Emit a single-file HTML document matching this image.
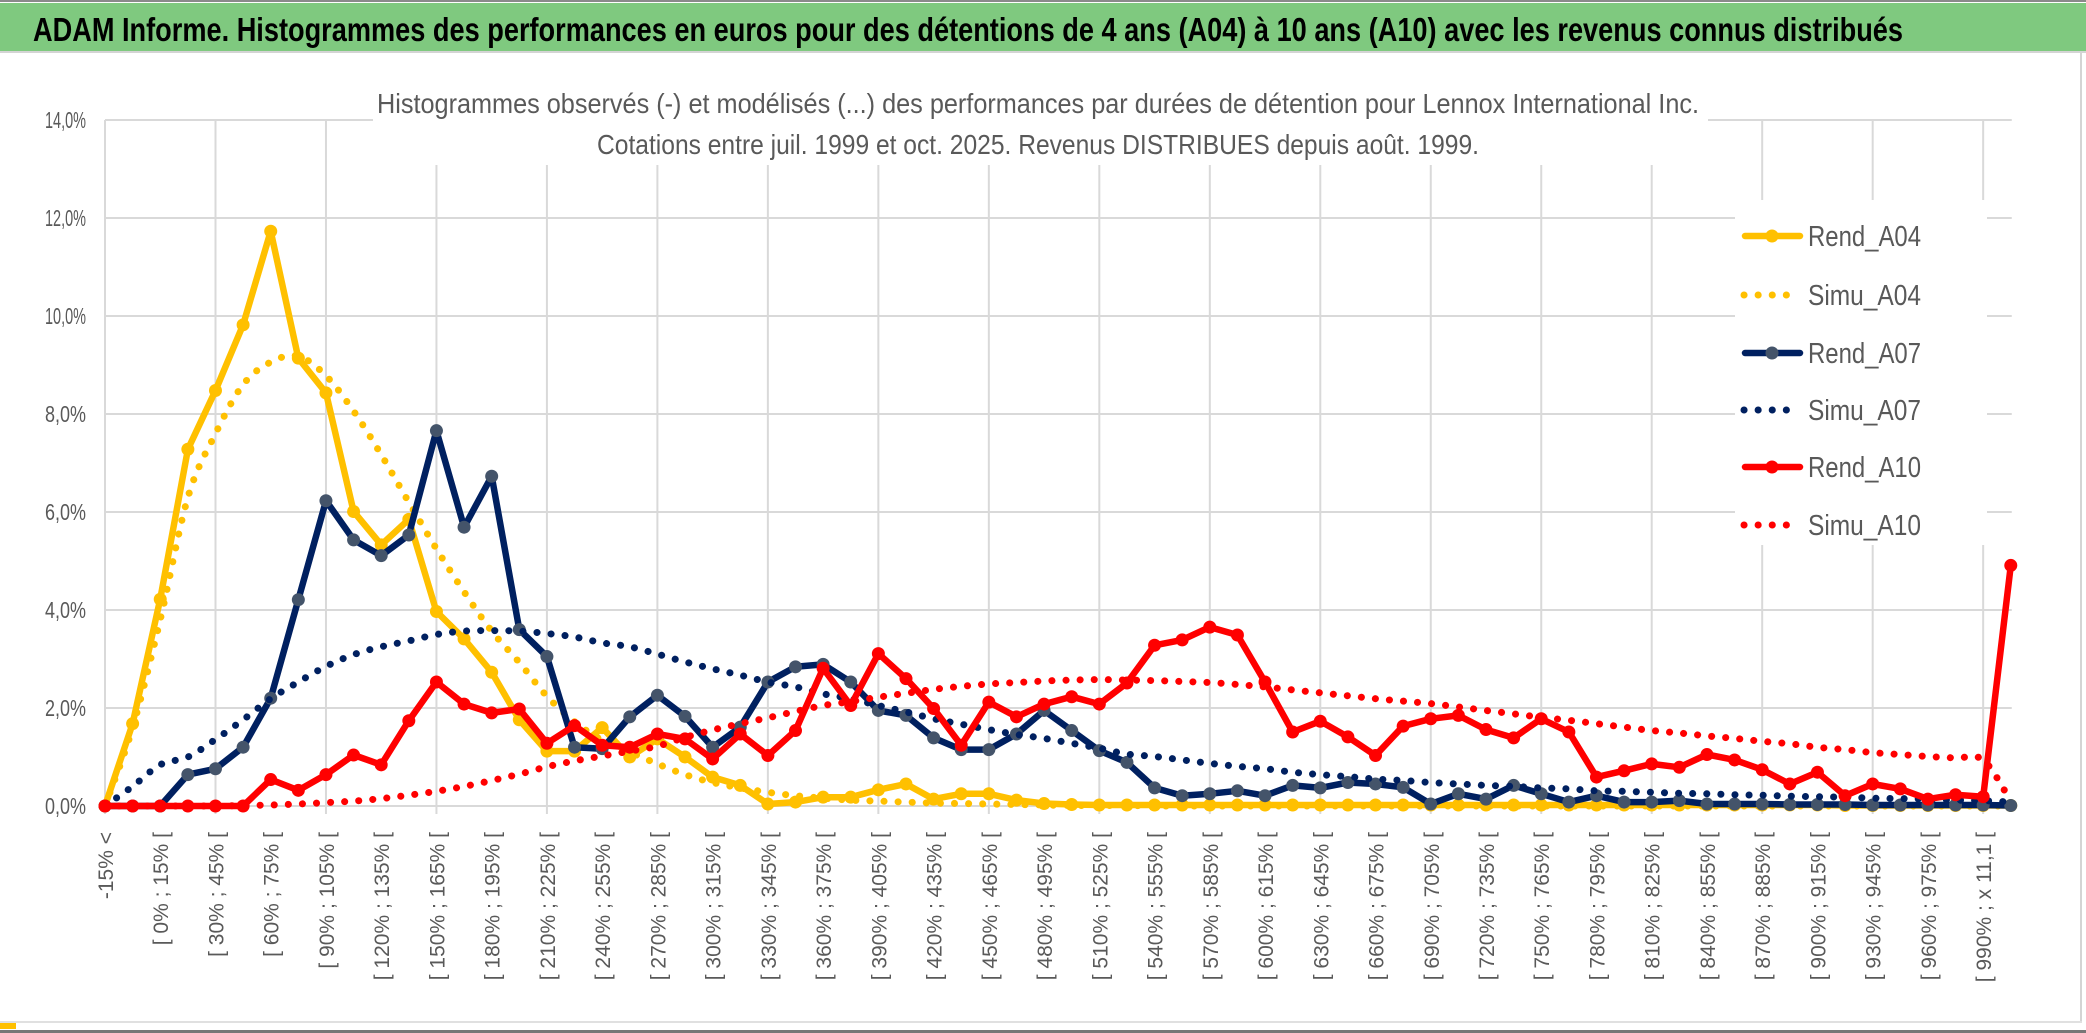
<!DOCTYPE html>
<html><head><meta charset="utf-8">
<style>
html,body{margin:0;padding:0;background:#fff;}
svg{display:block;}
text{font-family:"Liberation Sans",sans-serif;}
</style></head>
<body>
<svg id="chart" width="2086" height="1033" viewBox="0 0 2086 1033" xmlns="http://www.w3.org/2000/svg">
  <rect x="0" y="0" width="2086" height="1033" fill="#fff"/>
  <rect x="0" y="0" width="2086" height="2" fill="#8a8a8a"/>
  <rect x="0" y="3" width="2086" height="48" fill="#7fc97f"/>
  <text x="33" y="41" font-size="33" font-weight="bold" fill="#000" textLength="1870" lengthAdjust="spacingAndGlyphs">ADAM Informe. Histogrammes des performances en euros pour des détentions de 4 ans (A04) à 10 ans (A10) avec les revenus connus distribués</text>
  <rect x="0" y="51" width="2086" height="2" fill="#d4d4d4"/>
  <rect x="2080" y="53" width="2" height="970" fill="#d4d4d4"/>
  <rect x="0" y="1021" width="2082" height="2" fill="#e0e0e0"/>
  <rect x="0" y="1030" width="2086" height="3" fill="#777"/>
  <rect x="0" y="1023" width="16" height="6" fill="#ffc000"/>
  <g id="grid"></g>
  <rect x="373" y="58" width="1335" height="107" fill="#fff"/>
  <text x="1038" y="113" font-size="28" fill="#595959" text-anchor="middle" textLength="1322" lengthAdjust="spacingAndGlyphs">Histogrammes observés (-) et modélisés (...) des performances par durées de détention pour Lennox International Inc.</text>
  <text x="1038" y="154" font-size="28" fill="#595959" text-anchor="middle" textLength="882" lengthAdjust="spacingAndGlyphs">Cotations entre juil. 1999 et oct. 2025. Revenus DISTRIBUES depuis août. 1999.</text>
  <g id="yaxis"></g>
  <g id="xaxis"></g>
  <g id="series"></g>
  <g id="legend"></g>
</svg>
<script>
const categoryCount = 70;
const yTicks = [0, 2, 4, 6, 8, 10, 12, 14];
const yTickLabels = ["0,0%","2,0%","4,0%","6,0%","8,0%","10,0%","12,0%","14,0%"];
const rendA04 = [0,1.68,4.22,7.28,8.48,9.82,11.73,9.14,8.43,6.01,5.33,5.85,3.97,3.41,2.73,1.76,1.12,1.12,1.6,1.0,1.37,1.0,0.59,0.42,0.04,0.08,0.18,0.18,0.33,0.45,0.14,0.25,0.25,0.12,0.05,0.03,0.02,0.02,0.02,0.02,0.02,0.02,0.02,0.02,0.02,0.02,0.02,0.02,0.02,0.02,0.02,0.02,0.02,0.02,0.02,0.02,0.02,0.02,0.02,0.02,0.02,0.02,0.02,0.01,0.01,0.01,0.01,0.01,0.01,0.01];
const simuA04 = [0,1.6,3.8,6.3,7.6,8.6,9.06,9.18,8.78,8.06,7.17,6.2,5.25,4.37,3.57,2.93,2.24,1.72,1.34,1.1,0.86,0.64,0.48,0.37,0.28,0.21,0.16,0.12,0.1,0.08,0.06,0.05,0.04,0.03,0.02,0.01,0.01,0.01,0,0,0,0,0,0,0,0,0,0,0,0,0,0,0,0,0,0,0,0,0,0,0,0,0,0,0,0,0,0,0,0];
const rendA07 = [0,0,0,0.64,0.76,1.2,2.2,4.21,6.23,5.43,5.11,5.53,7.66,5.69,6.73,3.6,3.05,1.2,1.17,1.82,2.26,1.83,1.2,1.61,2.53,2.84,2.89,2.53,1.95,1.85,1.39,1.15,1.15,1.47,1.95,1.54,1.13,0.89,0.37,0.21,0.25,0.31,0.21,0.42,0.37,0.48,0.45,0.38,0.04,0.25,0.14,0.42,0.25,0.08,0.21,0.08,0.08,0.11,0.04,0.04,0.04,0.03,0.03,0.03,0.02,0.02,0.02,0.02,0.02,0.01];
const simuA07 = [0,0.4,0.84,1.0,1.36,1.76,2.19,2.53,2.85,3.09,3.25,3.37,3.5,3.57,3.58,3.57,3.52,3.45,3.33,3.25,3.1,2.94,2.8,2.67,2.53,2.43,2.29,2.19,2.05,1.92,1.78,1.67,1.56,1.46,1.38,1.28,1.18,1.06,1.01,0.94,0.87,0.81,0.76,0.69,0.64,0.6,0.55,0.52,0.48,0.45,0.42,0.4,0.37,0.35,0.31,0.3,0.28,0.26,0.25,0.23,0.22,0.2,0.19,0.18,0.16,0.15,0.14,0.12,0.11,0.08];
const rendA10 = [0,0,0,0,0,0,0.54,0.32,0.64,1.04,0.84,1.74,2.53,2.08,1.9,1.98,1.28,1.64,1.24,1.2,1.47,1.37,0.96,1.47,1.03,1.54,2.81,2.05,3.11,2.6,1.99,1.24,2.12,1.82,2.08,2.23,2.08,2.51,3.28,3.39,3.65,3.49,2.53,1.51,1.73,1.41,1.03,1.63,1.78,1.85,1.56,1.39,1.78,1.51,0.59,0.72,0.86,0.79,1.05,0.94,0.74,0.45,0.69,0.21,0.45,0.35,0.14,0.23,0.19,4.91];
const simuA10 = [0,0,0,0,0,0.01,0.02,0.04,0.07,0.1,0.15,0.22,0.3,0.4,0.52,0.65,0.8,0.92,1.02,1.12,1.22,1.4,1.55,1.68,1.8,1.93,2.05,2.13,2.22,2.3,2.38,2.44,2.49,2.52,2.55,2.57,2.58,2.57,2.56,2.54,2.52,2.48,2.43,2.37,2.31,2.25,2.19,2.14,2.09,2.02,1.95,1.88,1.81,1.75,1.68,1.61,1.54,1.49,1.43,1.38,1.32,1.27,1.2,1.15,1.09,1.05,1.01,0.98,0.94,0.1];

const NS = "http://www.w3.org/2000/svg";
const X0 = 105, XSTEP = 27.62, Y0 = 806, YUNIT = 49;
function xPos(k){ return X0 + k * XSTEP; }
function yPos(v){ return Y0 - v * YUNIT; }
function mk(tag, attrs, parent){
  const el = document.createElementNS(NS, tag);
  for (const a in attrs) el.setAttribute(a, attrs[a]);
  parent.appendChild(el);
  return el;
}
function catLabel(k){
  if (k === 0) return "-15% <";
  if (k === 1) return "[ -15% ; 0% [";
  if (k === 68) return "[ 990% ; x 11,1 [";
  if (k === 69) return "> x 11,1";
  return "[ " + ((k-2)*15) + "% ; " + ((k-1)*15) + "% [";
}
const grid = document.getElementById('grid');
const xRight = xPos(categoryCount - 1) + 1;
yTicks.forEach(function(t){
  const l = mk('line', {x1: X0, x2: xRight, y1: yPos(t), y2: yPos(t), stroke: '#d9d9d9', 'stroke-width': 2}, grid);
  
  
});
for (let k = 0; k < categoryCount; k += 4) {
  const l = mk('line', {x1: xPos(k), x2: xPos(k), y1: yPos(14), y2: Y0 + 8, stroke: '#d9d9d9', 'stroke-width': 2}, grid);
  
  
}
const yaxis = document.getElementById('yaxis');
yTicks.forEach(function(t, i){
  const tx = mk('text', {x: 86, y: yPos(t) + 8, 'font-size': 23, fill: '#595959', 'text-anchor': 'end', textLength: yTickLabels[i].length > 5 ? 50 : 41, lengthAdjust: 'spacingAndGlyphs'}, yaxis);
  
  
  tx.textContent = yTickLabels[i];
});
const xaxis = document.getElementById('xaxis');
for (let k = 0; k < categoryCount; k += 2) {
  const x = xPos(k);
  const tx = mk('text', {x: 0, y: 0, 'font-size': 21, fill: '#595959', 'text-anchor': 'end', 'font-family': '"DejaVu Sans", sans-serif', transform: 'translate(' + (x + 8) + ',832) rotate(-90)'}, xaxis);
  
  
  tx.textContent = catLabel(k);
}
function straightPath(vals){
  return vals.map(function(v, k){ return (k ? 'L' : 'M') + xPos(k).toFixed(1) + ' ' + yPos(v).toFixed(1); }).join(' ');
}
function smoothPath(vals){
  const p = vals.map(function(v, k){ return [xPos(k), yPos(v)]; });
  let d = 'M' + p[0][0].toFixed(1) + ' ' + p[0][1].toFixed(1);
  for (let i = 0; i < p.length - 1; i++) {
    const p0 = p[i-1] || p[i], p1 = p[i], p2 = p[i+1], p3 = p[i+2] || p[i+1];
    const c1x = p1[0] + (p2[0]-p0[0])/6, c1y = p1[1] + (p2[1]-p0[1])/6;
    const c2x = p2[0] - (p3[0]-p1[0])/6, c2y = p2[1] - (p3[1]-p1[1])/6;
    d += ' C' + c1x.toFixed(1) + ' ' + c1y.toFixed(1) + ' ' + c2x.toFixed(1) + ' ' + c2y.toFixed(1) + ' ' + p2[0].toFixed(1) + ' ' + p2[1].toFixed(1);
  }
  return d;
}
const series = document.getElementById('series');
function drawRend(vals, color, markerColor, name){
  const g = mk('g', {}, series);
  
  
  const p = mk('path', {d: straightPath(vals), fill: 'none', stroke: color, 'stroke-width': 6.5, 'stroke-linejoin': 'round', 'stroke-linecap': 'round'}, g);
  
  
  vals.forEach(function(v, k){
    const c = mk('circle', {cx: xPos(k), cy: yPos(v), r: 6.5, fill: markerColor}, g);
    
    
  });
}
function drawSimu(vals, color, name){
  const p = mk('path', {d: smoothPath(vals), fill: 'none', stroke: color, 'stroke-width': 7, 'stroke-linecap': 'round', 'stroke-dasharray': '0.1 14'}, series);
  
  
}
drawRend(rendA04, '#ffc000', '#ffc000', 'rend-a04');
drawSimu(simuA04, '#ffc000', 'simu-a04');
drawRend(rendA07, '#002060', '#44546a', 'rend-a07');
drawSimu(simuA07, '#002060', 'simu-a07');
drawRend(rendA10, '#ff0000', '#ff0000', 'rend-a10');
drawSimu(simuA10, '#ff0000', 'simu-a10');

const legend = document.getElementById('legend');
const lbg = mk('rect', {x: 1735, y: 200, width: 252, height: 345, fill: '#fff'}, legend);


const legendNames = ["Rend_A04","Simu_A04","Rend_A07","Simu_A07","Rend_A10","Simu_A10"];
const legendColors = ['#ffc000','#ffc000','#002060','#002060','#ff0000','#ff0000'];
const legendMarkers = ['#ffc000',null,'#44546a',null,'#ff0000',null];
const legendY = [236, 295, 353, 410, 467, 525];
legendNames.forEach(function(n, i){
  const g = mk('g', {}, legend);
  
  
  const y = legendY[i];
  if (legendMarkers[i]) {
    mk('line', {x1: 1745, x2: 1800, y1: y, y2: y, stroke: legendColors[i], 'stroke-width': 6.5, 'stroke-linecap': 'round'}, g);
    mk('circle', {cx: 1772, cy: y, r: 6.5, fill: legendMarkers[i]}, g);
  } else {
    mk('line', {x1: 1744, x2: i === 5 ? 1800 : 1790, y1: y, y2: y, stroke: legendColors[i], 'stroke-width': 7, 'stroke-linecap': 'round', 'stroke-dasharray': '0.1 14'}, g);
  }
  const t = mk('text', {x: 1808, y: y + 10, 'font-size': 29, fill: '#595959', textLength: 113, lengthAdjust: 'spacingAndGlyphs'}, g);
  
  
  t.textContent = n;
});
</script>
</body></html>
